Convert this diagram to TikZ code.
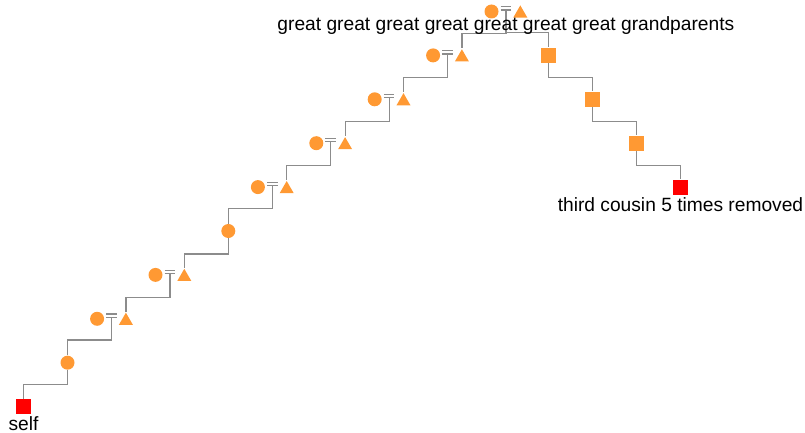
\documentclass[tikz,border=0pt]{standalone}
\usepackage{fontspec}
\setmainfont{Liberation Sans}
\usepackage{tikz}
\usetikzlibrary{calc, positioning, shapes.geometric}

\definecolor{kinorange}{RGB}{255,153,51}
\definecolor{kinred}{RGB}{255,0,0}
\definecolor{kingray}{RGB}{140,140,140}

\begin{document}
\begin{tikzpicture}[x=0.5pt, y=-0.5pt,
    link/.style={kingray, line width=0.6pt},
    female/.style={circle, fill=kinorange, inner sep=0pt, minimum size=7pt},
    male/.style={regular polygon, regular polygon sides=3, fill=kinorange, inner sep=0pt, minimum size=8.1pt},
    unknown/.style={rectangle, fill=kinorange, inner sep=0pt, minimum size=7.5pt},
    target/.style={rectangle, fill=kinred, inner sep=0pt, minimum size=7.5pt},
    lbl/.style={font=\fontsize{9.6}{11}\selectfont, inner sep=0pt}]
    \useasboundingbox (0,0) rectangle (805,433);

    % --- 1. generation spacing ---
    \def\gy{43.9}
    \def\gtop{11.5}

    % --- 2. couples: circle = triangle, with the marriage point m ---
    \foreach \mx/\k in {505.9/0, 447.5/1, 389.1/2, 330.7/3, 272.3/4, 169.9/6, 111.5/7} {
        \pgfmathsetmacro\yy{\gtop+\k*\gy}
        \node[female] (c\k) at (\mx-14.4,\yy) {};
        \node[male] (t\k) at (\mx+14.4,\yy+2) {};
        \draw[link] (\mx-5.3,\yy-4.7) -- (\mx+5.3,\yy-4.7)
                    (\mx-5.3,\yy-1.4) -- (\mx+5.3,\yy-1.4);
        \coordinate (m\k) at (\mx,\yy-1.4);
    }

    % --- 3. single ancestors and self ---
    \node[female] (c5) at (228.3,{\gtop+5*\gy}) {};
    \node[female] (c8) at (67.5,{\gtop+8*\gy}) {};
    \node[target] (self) at (23.5,{\gtop+9*\gy}) {};

    % --- 4. the cousin's line ---
    \node[unknown] (q1) at (548.5,{\gtop+1*\gy}) {};
    \node[unknown] (q2) at (592.5,{\gtop+2*\gy}) {};
    \node[unknown] (q3) at (636.5,{\gtop+3*\gy}) {};
    \node[target] (cousin) at (680.5,{\gtop+4*\gy}) {};

    % --- 5. parent -> child lines ---
    \foreach \a/\b in {m0/t1, m0/q1, m1/t2, m2/t3, m3/t4, m4/c5, c5/t6, m6/t7, m7/c8, c8/self, q1/q2, q2/q3, q3/cousin}
        \draw[link] (\a) |- ($(\a)!0.5!(\b)$) -| (\b);

    % --- 6. labels ---
    \node[lbl, anchor=base] (ggp) at ($(m0)+(0,20.6)$) {great great great great great great great grandparents};
    \node[lbl, below=1pt of self] (selfname) {self};
    \node[lbl, below=1pt of cousin] (cousinname) {third cousin 5 times removed};
\end{tikzpicture}
\end{document}
